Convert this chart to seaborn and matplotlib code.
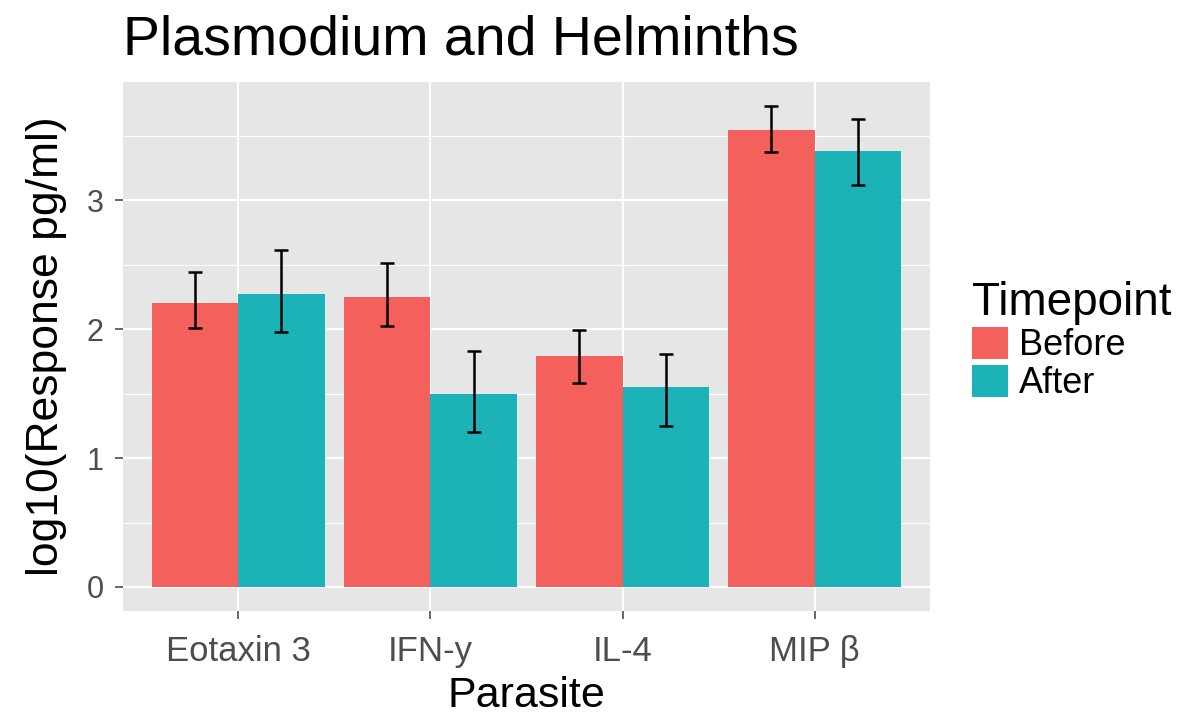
import numpy as np
import pandas as pd
import seaborn as sns
import matplotlib
matplotlib.use("Agg")
import matplotlib.pyplot as plt
from matplotlib.patches import Patch
from matplotlib.ticker import MultipleLocator

# Cytokine responses before and after treatment (log10 pg/ml)
cytokines = ["Eotaxin 3", "IFN-y", "IL-4", "MIP β"]
timepoints = ["Before", "After"]
before_mean = [2.20, 2.25, 1.79, 3.54]
after_mean = [2.27, 1.50, 1.55, 3.38]
before_low = [2.01, 2.02, 1.58, 3.37]
before_high = [2.44, 2.51, 1.99, 3.73]
after_low = [1.98, 1.20, 1.25, 3.12]
after_high = [2.61, 1.83, 1.81, 3.63]

palette = {"Before": "#F4615C", "After": "#1BB3B8"}

df = pd.DataFrame({
    "Parasite": cytokines * 2,
    "Timepoint": ["Before"] * 4 + ["After"] * 4,
    "Response": before_mean + after_mean,
    "Low": before_low + after_low,
    "High": before_high + after_high,
})

sns.set_theme(style="darkgrid")
plt.rcParams["font.family"] = ["Liberation Sans", "DejaVu Sans"]

fig = plt.figure(figsize=(11.81, 7.24), dpi=100)
ax = fig.add_axes([0.104, 0.156, 0.6835, 0.731])

sns.barplot(data=df, x="Parasite", y="Response", hue="Timepoint",
            order=cytokines, hue_order=timepoints, palette=palette,
            width=0.9, gap=0, errorbar=None, saturation=1,
            linewidth=0, ax=ax, zorder=3)

# Error bars drawn at the centre of each bar
bars = [p for p in ax.patches if p.get_width() > 0 and p.get_height() != 0]
for bar in bars:
    xc = bar.get_x() + bar.get_width() / 2
    h = bar.get_height()
    row = df[np.isclose(df["Response"], h)].iloc[0]
    ax.errorbar(xc, h, yerr=[[h - row["Low"]], [row["High"] - h]],
                fmt="none", ecolor="black", elinewidth=1.8,
                capsize=5, capthick=1.8, zorder=4)

ax.set_xlim(-0.6, 3.6)
ymax = max(before_high + after_high)
ax.set_ylim(-0.05 * ymax, ymax * 1.05)

ax.set_facecolor("#E6E6E6")
ax.yaxis.set_major_locator(MultipleLocator(1))
ax.yaxis.set_minor_locator(MultipleLocator(0.5))
ax.grid(which="major", color="white", linewidth=1.6, zorder=0)
ax.grid(which="minor", axis="y", color="white", linewidth=0.8, zorder=0)
ax.set_axisbelow(True)
for s in ax.spines.values():
    s.set_visible(False)

ax.tick_params(axis="both", which="major", length=6, width=1.2,
               color="#4D4D4D", labelcolor="#4D4D4D",
               direction="out", bottom=True, left=True)
ax.tick_params(axis="x", which="major", labelsize=25, pad=11)
ax.tick_params(axis="y", which="major", labelsize=22, pad=8)
ax.tick_params(axis="both", which="minor", length=0)

ax.set_xlabel("Parasite", fontsize=31, color="black", labelpad=6)
ax.set_ylabel("log10(Response pg/ml)", fontsize=32, color="black", labelpad=14)
ax.set_title("Plasmodium and Helminths", loc="left", fontsize=40,
             color="black", pad=20)

if ax.get_legend() is not None:
    ax.get_legend().remove()
handles = [Patch(facecolor=palette[t], edgecolor="none") for t in timepoints]
leg = ax.legend(handles, timepoints, title="Timepoint", loc="center left",
                bbox_to_anchor=(1.052, 0.51), frameon=False, fontsize=26,
                title_fontsize=33, handlelength=1.0, handleheight=1.0,
                handletextpad=0.3, labelspacing=0.05, borderpad=0,
                borderaxespad=0, alignment="left")
for t in leg.get_texts():
    t.set_color("black")
leg.get_title().set_color("black")

fig.savefig("out.png", dpi=100, facecolor="white")
